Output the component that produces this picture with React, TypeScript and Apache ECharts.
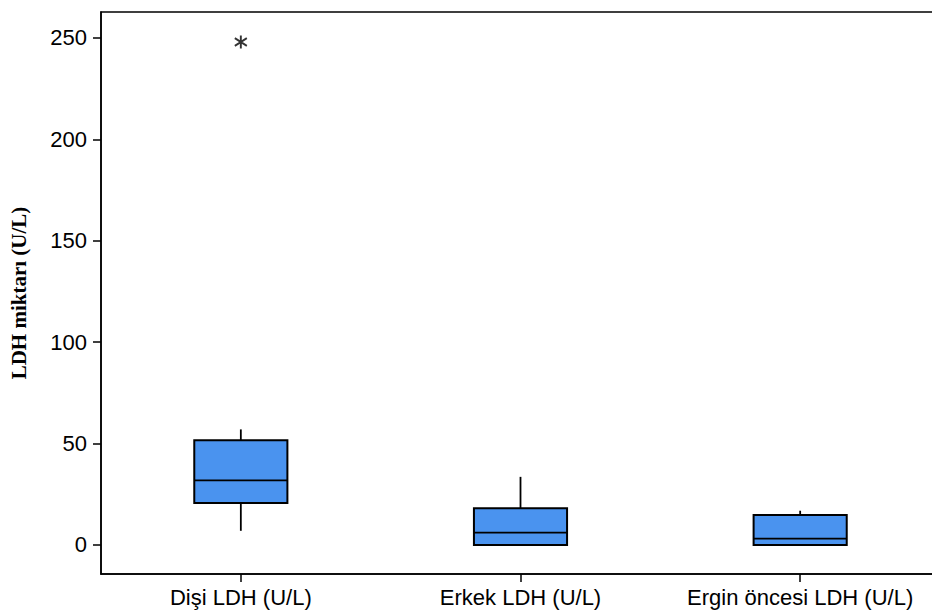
import React, { useEffect, useRef } from "react";
import * as echarts from "echarts";

const categories = ["Dişi LDH (U/L)", "Erkek LDH (U/L)", "Ergin öncesi LDH (U/L)"];
// [low whisker, Q1, median, Q3, high whisker]
const boxValues = [
  [7.0, 20.7, 31.9, 51.7, 57.0],
  [0, 0, 6.1, 18.1, 33.6],
  [0, 0, 3.1, 14.8, 16.9],
];
const outliers = [[0, 248]];
const yTicks = [0, 50, 100, 150, 200, 250];

const FONT = "'Liberation Sans', Arial, sans-serif";

export default function App() {
  const ref = useRef<HTMLDivElement>(null);
  useEffect(() => {
    document.body.style.margin = "0";
    const chart = echarts.init(ref.current!, null, { renderer: "svg" });
    chart.setOption({
      animation: false,
      backgroundColor: "#ffffff",
      grid: {
        left: 100,
        top: 12,
        bottom: 41,
        right: 2,
        show: true,
        borderColor: "#000",
        borderWidth: 1.5,
      },
      xAxis: {
        type: "category",
        data: categories,
        boundaryGap: true,
        axisLine: { show: true, onZero: false, lineStyle: { color: "#000", width: 1.5 } },
        axisTick: { show: true, alignWithLabel: true, length: 8, lineStyle: { color: "#000", width: 1.5 } },
        axisLabel: { color: "#000", fontSize: 22, fontFamily: FONT, margin: 12, interval: 0 },
        splitLine: { show: false },
      },
      yAxis: {
        type: "value",
        min: -14.3,
        max: 262.8,
        name: "LDH miktarı (U/L)",
        nameLocation: "middle",
        nameGap: 72,
        nameTextStyle: {
          color: "#000",
          fontFamily: "'Liberation Serif', 'Times New Roman', serif",
          fontWeight: "bold",
          fontSize: 21,
        },
        axisLine: { show: true, lineStyle: { color: "#000", width: 1.5 } },
        axisTick: { show: true, length: 8, customValues: yTicks, lineStyle: { color: "#000", width: 1.5 } },
        axisLabel: { color: "#000", fontSize: 22, fontFamily: FONT, margin: 14, customValues: yTicks },
        splitLine: { show: false },
      },
      series: [
        {
          type: "custom",
          data: boxValues.map((v, i) => [i, ...v]),
          renderItem: (params: any, api: any) => {
            const x = api.value(0);
            const low = api.coord([x, api.value(1)]);
            const q1 = api.coord([x, api.value(2)]);
            const med = api.coord([x, api.value(3)]);
            const q3 = api.coord([x, api.value(4)]);
            const high = api.coord([x, api.value(5)]);
            const w = api.size([1, 0])[0] * 0.333;
            const cx = q1[0];
            const lineStyle = { stroke: "#000", lineWidth: 1.8 };
            return {
              type: "group",
              children: [
                { type: "line", shape: { x1: cx, y1: q3[1], x2: cx, y2: high[1] }, style: lineStyle },
                { type: "line", shape: { x1: cx, y1: low[1], x2: cx, y2: q1[1] }, style: lineStyle },
                {
                  type: "rect",
                  shape: { x: cx - w / 2, y: q3[1], width: w, height: q1[1] - q3[1] },
                  style: { fill: "#4a93ef", stroke: "#000", lineWidth: 2 },
                },
                { type: "line", shape: { x1: cx - w / 2, y1: med[1], x2: cx + w / 2, y2: med[1] }, style: lineStyle },
              ],
            };
          },
          z: 2,
        },
        {
          type: "scatter",
          data: outliers,
          symbol: "path://M0,-6L0,6M-5.2,-3.6L5.2,3.6M-5.2,3.6L5.2,-3.6",
          symbolSize: [12, 13],
          itemStyle: { color: "none", borderColor: "#000", borderWidth: 2 },
          z: 3,
        },
      ],
    });
    return () => chart.dispose();
  }, []);
  return (
    <div style={{ width: 932, height: 615, overflow: "hidden", position: "relative" }}>
      <div ref={ref} style={{ width: 942, height: 615 }} />
    </div>
  );
}
